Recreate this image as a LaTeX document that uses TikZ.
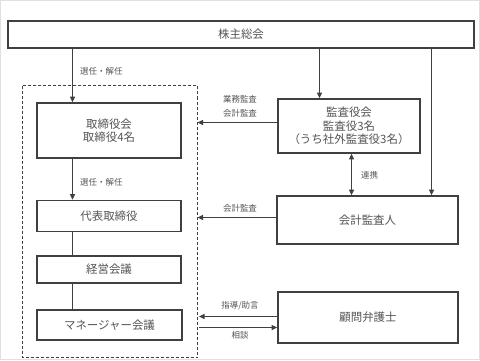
\documentclass[tikz,border=0pt]{standalone}
\usepackage{fontspec}
\newfontfamily\jp{Noto Sans CJK JP}
\usetikzlibrary{arrows.meta}
\definecolor{ln}{HTML}{404040}
\definecolor{tx}{HTML}{555555}
\begin{document}
\begin{tikzpicture}[x=1bp,y=-1bp,
  box/.style={draw=ln,line width=1.7bp,fill=white,inner sep=0pt,text=tx,font=\jp\fontsize{11.5}{13.5}\selectfont,align=center},
  lbl/.style={text=tx,font=\jp\fontsize{8.5}{12}\selectfont,inner sep=0pt,align=center},
  conn/.style={draw=ln,line width=1.1bp},
  arr/.style={conn,-{Triangle[length=5.5bp,width=5bp]}},
  darr/.style={conn,{Triangle[length=5.5bp,width=5bp]}-{Triangle[length=5.5bp,width=5bp]}}]
\useasboundingbox (0,0) rectangle (480,360);
\draw[draw=black!12,line width=1bp] (0.5,0.5) rectangle (479.5,359.5);
% dashed frame
\draw[ln,line width=1.1bp,dash pattern=on 3bp off 2bp] (22.5,85.5) rectangle (197.5,357.5);
% boxes
\node[box,minimum width=144bp,minimum height=27bp,minimum width=466bp] (kabu) at (241,34.5) {株主総会};
\node[box,minimum width=144bp,minimum height=55bp] (tori) at (109,130.5) {取締役会\\取締役4名};
\node[box,minimum width=144bp,minimum height=31bp] (dai) at (109,216) {代表取締役};
\node[box,minimum width=144bp,minimum height=27bp] (kei) at (109,269.5) {経営会議};
\node[box,minimum width=145bp,minimum height=30bp] (mgr) at (109.5,325) {マネージャー会議};
\node[box,minimum width=142bp,minimum height=54bp] (kan) at (349,126) {監査役会\\監査役3名\\（うち社外監査役3名）};
\node[box,minimum width=181bp,minimum height=48bp] (kaikei) at (367.5,220) {会計監査人};
\node[box,minimum width=180bp,minimum height=51bp] (komon) at (368,317.5) {顧問弁護士};
% helper coordinates
\coordinate (cx) at (72.5,0);
\coordinate (f1) at (197.5,122.5);
\coordinate (f2) at (197.5,217.5);
\coordinate (f3) at (199,316.5);
\coordinate (f4) at (199,327.5);
% connectors
\draw[arr] (kabu.south -| cx) -- (tori.north -| cx);
\node[lbl,anchor=west] (l1) at (80,71) {選任・解任};
\draw[arr] (tori.south -| cx) -- (dai.north -| cx);
\node[lbl,anchor=west] (l2) at (80,182) {選任・解任};
\draw[conn] (dai.south -| cx) -- (kei.north -| cx);
\draw[conn] (kei.south -| cx) -- (mgr.north -| cx);
\draw[arr] (kabu.south -| 319.5,0) -- (kan.north -| 319.5,0);
\draw[arr] (kabu.south -| 431.5,0) -- (kaikei.north -| 431.5,0);
\draw[darr] (kan.south -| 351.5,0) -- (kaikei.north -| 351.5,0);
\node[lbl,anchor=west] (l3) at (361,175) {連携};
\draw[arr] (kan.west |- f1) -- (f1);
\node[lbl] (l4) at (240,99) {業務監査};
\node[lbl] (l5) at (240,113) {会計監査};
\draw[arr] (kaikei.west |- f2) -- (f2);
\node[lbl] (l6) at (240,208) {会計監査};
\draw[arr] (komon.west |- f3) -- (f3);
\node[lbl] (l7) at (240,306) {指導/助言};
\draw[arr] (f4) -- (komon.west |- f4);
\node[lbl] (l8) at (240,335) {相談};
\end{tikzpicture}
\end{document}
